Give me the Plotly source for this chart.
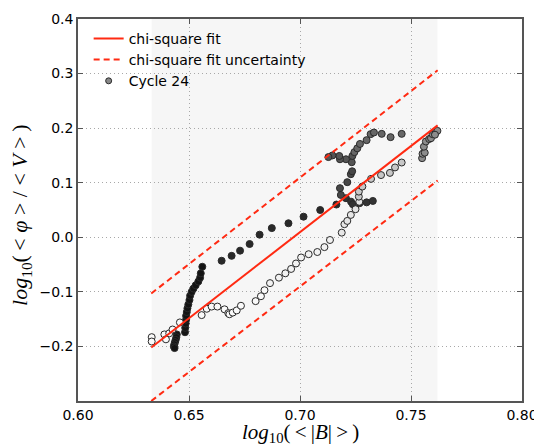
import plotly.graph_objects as go

# ---- Cycle 24 data: log10(<|B|>), log10(<phi>/<V>), shade (0 = black, 1 = white)
log_b = [
    # dark early cluster + steep column
    0.6445, 0.6443, 0.6440, 0.6437, 0.6434, 0.6432, 0.6435,
    0.6482, 0.6483, 0.6485, 0.6487, 0.6487, 0.6490, 0.6493, 0.6497, 0.6502,
    0.6505, 0.6512, 0.6520, 0.6530, 0.6542, 0.6550, 0.6553, 0.6560,
    # dark upper path
    0.6647, 0.6692, 0.6730, 0.6773, 0.6818, 0.6873, 0.6948, 0.7016, 0.7091, 0.7164,
    # middle cross
    0.7207, 0.7230, 0.7238, 0.7268, 0.7300, 0.7328,
    # rising toward the top
    0.7184, 0.7180, 0.7213, 0.7229, 0.7235,
    # top cluster
    0.7233, 0.7207, 0.7180, 0.7177, 0.7146, 0.7128, 0.7236,
    # upper chain
    0.7245, 0.7258, 0.7270, 0.7300, 0.7318, 0.7333, 0.7368, 0.7408, 0.7458,
    # right-hand cluster
    0.7550, 0.7552, 0.7562, 0.7558, 0.7567, 0.7582, 0.7590, 0.7597, 0.7605,
    0.7612, 0.7619, 0.7608,
    # light lower path
    0.6332, 0.6332, 0.6389, 0.6396, 0.6411, 0.6426, 0.6459, 0.6557, 0.6580,
    0.6602, 0.6628, 0.6660, 0.6677, 0.6682, 0.6697, 0.6715, 0.6734, 0.6800,
    0.6824, 0.6840, 0.6865, 0.6905, 0.6934, 0.6960, 0.6982, 0.7005, 0.7039,
    0.7078, 0.7110, 0.7135, 0.7188, 0.7200, 0.7213, 0.7229, 0.7250, 0.7267,
    0.7265, 0.7265, 0.7281, 0.7320, 0.7365, 0.7405, 0.7428, 0.7458,
]
log_phi_v = [
    -0.178, -0.183, -0.188, -0.192, -0.196, -0.200, -0.203,
    -0.174, -0.166, -0.158, -0.151, -0.144, -0.137, -0.130, -0.123, -0.115,
    -0.107, -0.100, -0.094, -0.088, -0.081, -0.074, -0.066, -0.054,
    -0.043, -0.034, -0.0245, -0.0123, 0.0048, 0.0168, 0.0257, 0.0378, 0.050, 0.060,
    0.0716, 0.0653, 0.0605, 0.0624, 0.064, 0.0666,
    0.0776, 0.090, 0.101, 0.1156, 0.121,
    0.1376, 0.143, 0.143, 0.149, 0.150, 0.147, 0.149,
    0.156, 0.163, 0.171, 0.178, 0.189, 0.192, 0.1895, 0.1835, 0.1895,
    0.145, 0.153, 0.155, 0.166, 0.1755, 0.180, 0.1816, 0.189, 0.192,
    0.193, 0.195, 0.188,
    -0.183, -0.191, -0.178, -0.187, -0.176, -0.169, -0.156, -0.1426, -0.131,
    -0.127, -0.127, -0.132, -0.139, -0.141, -0.138, -0.134, -0.1255, -0.117,
    -0.108, -0.097, -0.084, -0.074, -0.066, -0.058, -0.048, -0.037, -0.031,
    -0.027, -0.018, -0.005, 0.0085, 0.024, 0.030, 0.041, 0.0514, 0.065,
    0.0745, 0.0837, 0.093, 0.107, 0.114, 0.118, 0.128, 0.137,
]
shade = (
    [0.08] * 7 + [0.08] * 17
    + [0.16] * 10
    + [0.2] * 6
    + [0.28] * 5
    + [0.33] * 7
    + [0.4] * 9
    + [0.55] * 12
    + [0.98] * 20 + [0.95] * 10 + [0.9] * 6 + [0.78] * 8
)

# ---- chi-square fit
fit_x = [0.633, 0.762]
fit_y = [-0.202, 0.205]
fit_upper = [-0.103, 0.306]
fit_lower = [-0.300, 0.104]

x_ticks = [0.60, 0.65, 0.70, 0.75, 0.80]
y_ticks = [-0.2, -0.1, 0.0, 0.1, 0.2, 0.3, 0.4]

x_title = "<i>log</i><sub>10</sub>(\u2009&lt;\u2009|<i>B</i>|\u2009&gt;\u2009)"
y_title = ("<i>log</i><sub>10</sub>(\u2009&lt;\u00a0<i>φ</i>\u00a0&gt;"
           "\u00a0/\u00a0&lt;\u00a0<i>V</i>\u00a0&gt;\u2009)")

RED = "#ff2a12"

fig = go.Figure()

# shaded vertical band spanning the data range
fig.add_shape(type="rect", xref="x", yref="paper",
              x0=min(log_b), x1=max(log_b), y0=0, y1=1,
              fillcolor="#f6f6f6", line_width=0, layer="below")

fig.add_trace(go.Scatter(
    x=log_b, y=log_phi_v, mode="markers", showlegend=False,
    marker=dict(size=7, color=shade, colorscale=[[0, "black"], [1, "white"]],
                cmin=0, cmax=1, line=dict(color="#2a2a2a", width=1)),
))
fig.add_trace(go.Scatter(
    x=fit_x, y=fit_y, mode="lines", name="chi-square fit", legendrank=1,
    line=dict(color=RED, width=2),
))
fig.add_trace(go.Scatter(
    x=fit_x, y=fit_upper, mode="lines", name="chi-square fit uncertainty",
    legendrank=2, line=dict(color=RED, width=2, dash="6px,4px"),
))
fig.add_trace(go.Scatter(
    x=fit_x, y=fit_lower, mode="lines", showlegend=False,
    line=dict(color=RED, width=2, dash="6px,4px"),
))
fig.add_trace(go.Scatter(
    x=[None], y=[None], mode="markers", name="Cycle 24", legendrank=3,
    marker=dict(size=6, color="#888888", line=dict(color="#2a2a2a", width=1)),
))

axis_common = dict(
    showgrid=True, gridcolor="#a8a8a8", griddash="1px,3px", gridwidth=1,
    zeroline=False, showline=True, linecolor="#555555", linewidth=1.5,
    mirror="ticks", ticks="inside", ticklen=5, tickcolor="#555555",
    tickfont=dict(family="DejaVu Sans", size=14, color="black"),
)

fig.update_xaxes(range=[0.60, 0.80], tickvals=x_ticks,
                 ticktext=[f"{v:.2f}" for v in x_ticks], **axis_common)
fig.update_yaxes(range=[-0.3, 0.4], tickvals=y_ticks,
                 ticktext=[f"{v:.1f}".replace("-", "\u2212") for v in y_ticks],
                 **axis_common)

title_font = dict(family="Liberation Serif", size=21, color="black")
fig.add_annotation(text=x_title, xref="paper", yref="paper", x=0.5, y=-0.083,
                   xanchor="center", yanchor="middle", showarrow=False,
                   font=title_font)
fig.add_annotation(text=y_title, xref="paper", yref="paper", x=-0.128, y=0.485,
                   xanchor="center", yanchor="middle", showarrow=False,
                   textangle=-90, font=dict(title_font, size=22))

# the page body adds an 8px offset, so the figure is sized to fit 542x446
fig.update_layout(
    width=534, height=438,
    margin=dict(l=70, r=20, t=11, b=45, autoexpand=False),
    paper_bgcolor="white", plot_bgcolor="white",
    showlegend=True,
    legend=dict(x=0.024, y=0.99, xanchor="left", yanchor="top",
                bgcolor="rgba(0,0,0,0)", borderwidth=0,
                font=dict(family="DejaVu Sans", size=14, color="black"),
                itemwidth=30, tracegroupgap=0),
)

fig.write_html("out.html")
